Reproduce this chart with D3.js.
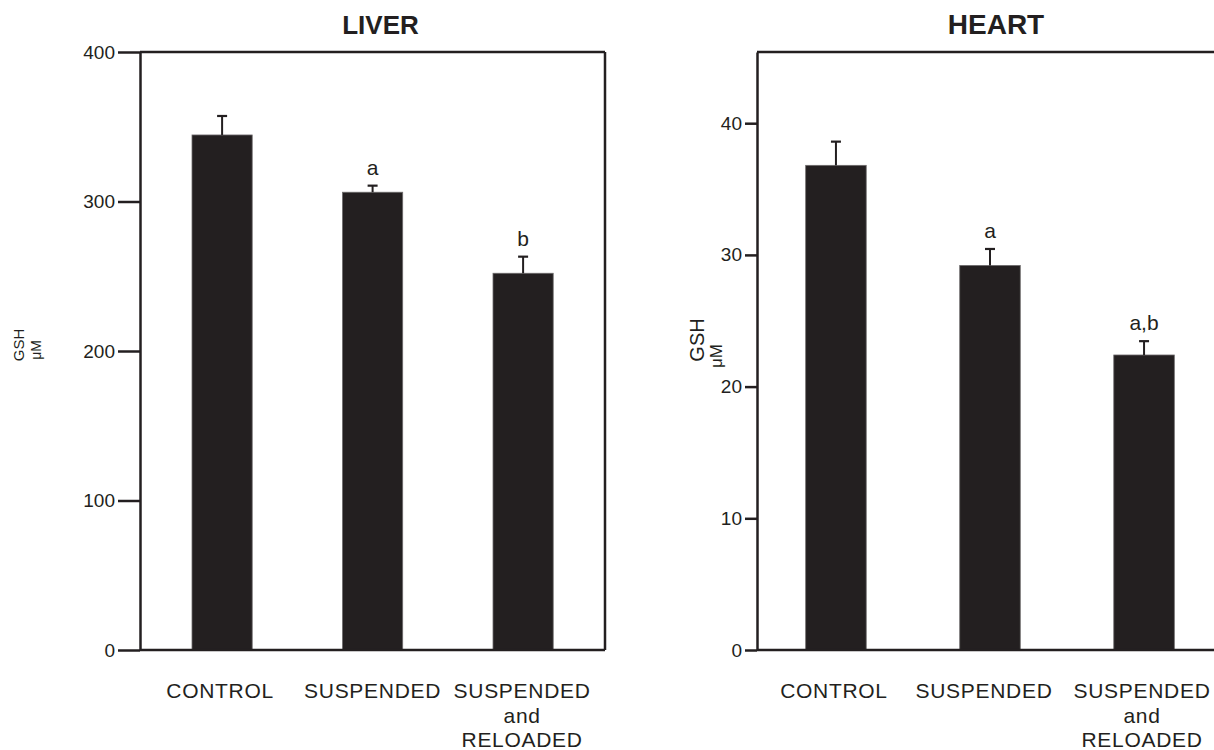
<!DOCTYPE html>
<html>
<head>
<meta charset="utf-8">
<script src="https://cdn.jsdelivr.net/npm/d3@7"></script>
<style>
  html, body { margin: 0; padding: 0; background: #fff; }
  svg { display: block; }
  text { font-family: "Liberation Sans", Arial, Helvetica, sans-serif; fill: #231f20; }
</style>
</head>
<body>
<svg id="chart" width="1214" height="750"></svg>
<script>
// ---- data ----
const categories = ["CONTROL", "SUSPENDED", "SUSPENDED and RELOADED"];
const categoryLines = [["CONTROL"], ["SUSPENDED"], ["SUSPENDED", "and", "RELOADED"]];

const liverMeans  = [344.5, 306.2, 252.0];
const liverErrors = [12.7, 4.4, 11.1];
const liverMarks  = ["", "a", "b"];
const liverTicks  = [0, 100, 200, 300, 400];

const heartMeans  = [36.8, 29.2, 22.4];
const heartErrors = [1.8, 1.25, 1.05];
const heartMarks  = ["", "a", "a,b"];
const heartTicks  = [0, 10, 20, 30, 40];

const panelTitles = ["LIVER", "HEART"];
const yLabel = ["GSH", "\u03bcM"];

// ---- drawing ----
const ink = "#231f20";
const svg = d3.select("#chart");

function panel(cfg) {
  const g = svg.append("g");
  const x = d3.scaleBand().domain(categories)
    .range([cfg.x0, cfg.x1]).paddingInner(cfg.pi).paddingOuter(cfg.po);
  const y = d3.scaleLinear().domain([0, cfg.ymax]).range([650, 52]);

  // bars
  g.selectAll("rect.bar").data(cfg.means).join("rect")
    .attr("class", "bar")
    .attr("x", (d, i) => x(categories[i]))
    .attr("width", x.bandwidth())
    .attr("y", d => y(d))
    .attr("height", d => y(0) - y(d))
    .attr("fill", ink)
    .attr("stroke", "#6d6a6b").attr("stroke-width", 0.8);

  // error bars
  const eb = g.selectAll("g.err").data(cfg.means).join("g").attr("class", "err");
  eb.append("line")
    .attr("x1", (d, i) => x(categories[i]) + x.bandwidth() / 2)
    .attr("x2", (d, i) => x(categories[i]) + x.bandwidth() / 2)
    .attr("y1", d => y(d))
    .attr("y2", (d, i) => y(d + cfg.errors[i]))
    .attr("stroke", ink).attr("stroke-width", 2);
  eb.append("line")
    .attr("x1", (d, i) => x(categories[i]) + x.bandwidth() / 2 - 5)
    .attr("x2", (d, i) => x(categories[i]) + x.bandwidth() / 2 + 5)
    .attr("y1", (d, i) => y(d + cfg.errors[i]))
    .attr("y2", (d, i) => y(d + cfg.errors[i]))
    .attr("stroke", ink).attr("stroke-width", 2.2);

  // significance marks
  g.selectAll("text.mark").data(cfg.marks).join("text")
    .attr("class", "mark")
    .attr("x", (d, i) => x(categories[i]) + x.bandwidth() / 2)
    .attr("y", (d, i) => y(cfg.means[i] + cfg.errors[i]) - 11)
    .attr("text-anchor", "middle")
    .attr("font-size", 21)
    .text(d => d);

  // y axis
  const ax = g.append("g").attr("transform", `translate(${cfg.x0},0)`)
    .call(d3.axisLeft(y).tickValues(cfg.ticks).tickSize(cfg.tickLen).tickPadding(3).tickSizeOuter(0));
  ax.select(".domain").attr("stroke", ink).attr("stroke-width", 2.5);
  ax.selectAll(".tick line").attr("stroke", ink).attr("stroke-width", 2.5);
  ax.selectAll(".tick text").attr("font-size", 19)
    .attr("font-family", "'Liberation Sans', Arial, sans-serif").attr("fill", ink);

  // frame: top, bottom, right
  g.append("line").attr("x1", cfg.x0).attr("x2", cfg.frameRight)
    .attr("y1", y(cfg.ymax)).attr("y2", y(cfg.ymax))
    .attr("stroke", ink).attr("stroke-width", 2.5);
  g.append("line").attr("x1", cfg.x0).attr("x2", cfg.frameRight)
    .attr("y1", y(0)).attr("y2", y(0))
    .attr("stroke", ink).attr("stroke-width", 2.5);
  g.append("line").attr("x1", cfg.frameRight).attr("x2", cfg.frameRight)
    .attr("y1", y(cfg.ymax)).attr("y2", y(0))
    .attr("stroke", ink).attr("stroke-width", 2.5);

  // category labels
  const lab = g.selectAll("text.cat").data(categoryLines).join("text")
    .attr("class", "cat")
    .attr("text-anchor", "middle")
    .attr("font-size", 21)
    .attr("letter-spacing", 0.7);
  lab.each(function (lines, i) {
    const t = d3.select(this);
    lines.forEach((s, j) => {
      t.append("tspan")
        .attr("x", x(categories[i]) + x.bandwidth() / 2 + cfg.labelShift[i])
        .attr("y", 698 + j * 24.5)
        .text(s);
    });
  });

  // title
  g.append("text").attr("x", cfg.titleX).attr("y", 34)
    .attr("text-anchor", "middle").attr("font-size", cfg.titleSize).attr("font-weight", "bold")
    .text(cfg.title);

  // y axis label
  g.append("text")
    .attr("transform", `translate(${cfg.yl1[0]},${cfg.yl1[1]}) rotate(-90)`)
    .attr("text-anchor", "middle").attr("font-size", cfg.ylSize[0])
    .text(yLabel[0]);
  g.append("text")
    .attr("transform", `translate(${cfg.yl2[0]},${cfg.yl2[1]}) rotate(-90)`)
    .attr("text-anchor", "middle").attr("font-size", cfg.ylSize[1])
    .text(yLabel[1]);
}

panel({
  x0: 140, x1: 605.2, frameRight: 605, pi: 0.6, po: 0.3455,
  ymax: 400, means: liverMeans, errors: liverErrors, marks: liverMarks, ticks: liverTicks,
  tickLen: 22, title: panelTitles[0], titleX: 380.5, titleSize: 26,
  labelShift: [-2, 0, -1],
  yl1: [24, 345], yl2: [41, 350], ylSize: [15, 14]
});

panel({
  x0: 757, x1: 1223, frameRight: 1230, pi: 0.607, po: 0.316,
  ymax: 598 / 13.17, means: heartMeans, errors: heartErrors, marks: heartMarks, ticks: heartTicks,
  tickLen: 12, title: panelTitles[1], titleX: 996, titleSize: 28,
  labelShift: [-2, -6, -2],
  yl1: [704, 340], yl2: [722, 356], ylSize: [20, 17]
});
</script>
</body>
</html>
